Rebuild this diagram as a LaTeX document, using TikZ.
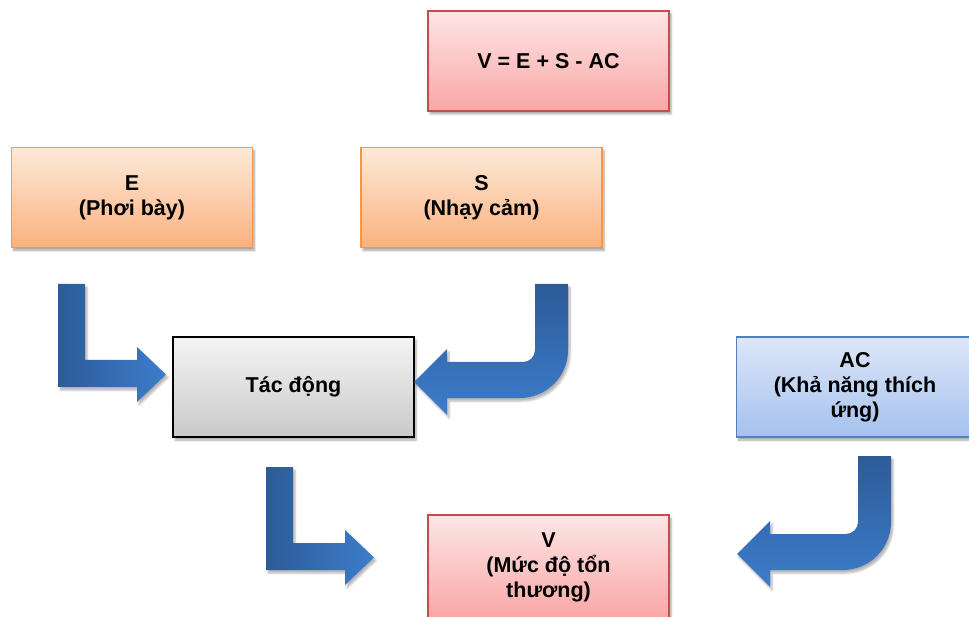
\documentclass[tikz,border=0pt]{standalone}
\usepackage{fontspec}
\setmainfont{Liberation Sans}
\usetikzlibrary{shadows.blur}

\definecolor{orEdge}{HTML}{F79646}
\definecolor{orTop}{HTML}{FDEADA}
\definecolor{orBot}{HTML}{FBB17E}
\definecolor{rdEdge}{HTML}{C0504D}
\definecolor{rdTop}{HTML}{FDE6E6}
\definecolor{rdBot}{HTML}{F9A6A5}
\definecolor{gyTop}{HTML}{F4F4F4}
\definecolor{gyBot}{HTML}{C9C9C9}
\definecolor{blEdge}{HTML}{4F81BD}
\definecolor{blTop}{HTML}{DDE7F8}
\definecolor{blBot}{HTML}{A5C1EE}
\definecolor{arDark}{HTML}{2C5B98}
\definecolor{arLight}{HTML}{3D7DCB}

\tikzset{
  box/.style={rectangle, minimum width=241pt, minimum height=100pt,
    line width=1.8pt, align=center, font=\fontsize{21.5}{25}\selectfont\bfseries,
    blur shadow={shadow xshift=2pt, shadow yshift=-3pt, shadow blur steps=6, shadow opacity=35}},
  orangebox/.style={box, draw=orEdge, top color=orTop, bottom color=orBot},
  redbox/.style={box, draw=rdEdge, top color=rdTop, bottom color=rdBot},
  graybox/.style={box, draw=black, top color=gyTop, bottom color=gyBot},
  bluebox/.style={box, draw=blEdge, top color=blTop, bottom color=blBot},
  bentarrow/.style={left color=arDark, right color=arLight, draw=none,
    blur shadow={shadow xshift=2pt, shadow yshift=-3pt, shadow blur steps=5, shadow opacity=30}},
  turnarrow/.style={top color=arDark, bottom color=arLight, draw=none,
    blur shadow={shadow xshift=2pt, shadow yshift=-3pt, shadow blur steps=5, shadow opacity=30}},
}

\begin{document}
\begin{tikzpicture}[x=1pt, y=-1pt]
\useasboundingbox (0,0) rectangle (969,617);

% boxes
\node[redbox] (formula) at (548.5,61) {V = E + S - AC};
\node[orangebox] (expo) at (132,197.5) {E\\(Phơi bày)};
\node[orangebox] (sens) at (481.5,197.5) {S\\(Nhạy cảm)};
\node[graybox] (impact) at (293.5,387) {Tác động};
\node[bluebox, minimum width=237pt] (adapt) at (855,387) {AC\\(Khả năng thích\\ứng)};
\node[redbox, minimum height=104pt] (vuln) at (548.5,567) {V\\(Mức độ tổn\\thương)};

% bent block arrows (down, then right)
\path[bentarrow] (58,284) -- (85,284) -- (85,360) -- (137,360) -- (137,347)
  -- (166,374.5) -- (137,402) -- (137,387) -- (58,387) -- cycle;
\begin{scope}[shift={(208,183)}]
\path[bentarrow] (58,284) -- (85,284) -- (85,360) -- (137,360) -- (137,347)
  -- (166,374.5) -- (137,402) -- (137,387) -- (58,387) -- cycle;
\end{scope}

% rounded block arrows (down, then left)
\path[turnarrow] (535,284) -- (568,284) -- (568,350)
  .. controls (568,376.5) and (546.5,398) .. (520,398) -- (447,398) -- (447,415)
  -- (414,382) -- (447,349) -- (447,362) -- (523,362)
  .. controls (529.6,362) and (535,356.6) .. (535,350) -- cycle;
\begin{scope}[shift={(323,172)}]
\path[turnarrow] (535,284) -- (568,284) -- (568,350)
  .. controls (568,376.5) and (546.5,398) .. (520,398) -- (447,398) -- (447,415)
  -- (414,382) -- (447,349) -- (447,362) -- (523,362)
  .. controls (529.6,362) and (535,356.6) .. (535,350) -- cycle;
\end{scope}
\end{tikzpicture}
\end{document}
